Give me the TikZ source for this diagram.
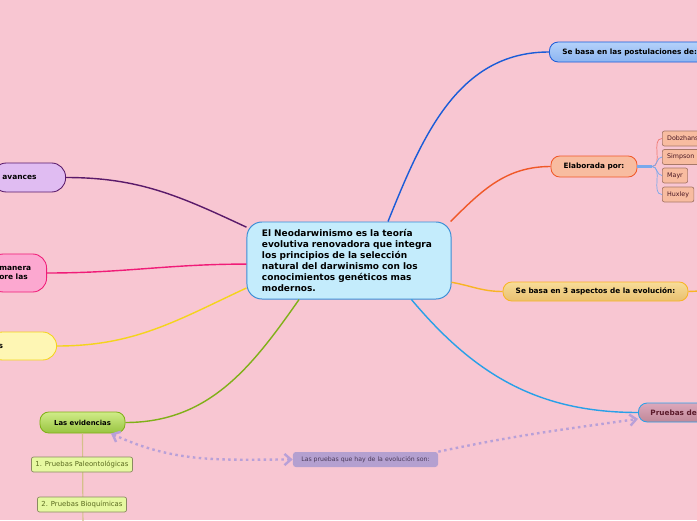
\documentclass[tikz,border=0pt]{standalone}
\usepackage{fontspec}
\setmainfont{DejaVu Sans}
\usepackage{tikz}
\usetikzlibrary{arrows.meta}
\definecolor{fondo}{HTML}{F8C6D2}
\definecolor{celeste}{HTML}{C4ECFC}
\definecolor{bordecentro}{HTML}{3A8ED6}
\definecolor{azul}{HTML}{1A5CD8}
\definecolor{azulclaro}{HTML}{B4D2FA}
\definecolor{azulmedio}{HTML}{8CB4F0}
\definecolor{naranja}{HTML}{F05828}
\definecolor{salmon}{HTML}{F8BCA0}
\definecolor{cafe}{HTML}{A87868}
\definecolor{ramaazul}{HTML}{78A8EC}
\definecolor{ramaroja}{HTML}{F07870}
\definecolor{ambar}{HTML}{F8B424}
\definecolor{arena}{HTML}{F8DC98}
\definecolor{arenaosc}{HTML}{E8C070}
\definecolor{cielo}{HTML}{28A0E8}
\definecolor{malva}{HTML}{DCA8BC}
\definecolor{malvaosc}{HTML}{C08898}
\definecolor{granate}{HTML}{5A1A2A}
\definecolor{morado}{HTML}{5A1A6A}
\definecolor{lila}{HTML}{E0BCF2}
\definecolor{fucsia}{HTML}{F01C78}
\definecolor{rosa}{HTML}{FCA8D0}
\definecolor{amarillo}{HTML}{F4D41C}
\definecolor{crema}{HTML}{FEF6B4}
\definecolor{oliva}{HTML}{80B018}
\definecolor{verdeclaro}{HTML}{D0EC88}
\definecolor{verdeosc}{HTML}{98C440}
\definecolor{lima}{HTML}{E6F8A0}
\definecolor{gris}{HTML}{8A8A60}
\definecolor{musgo}{HTML}{5A6A20}
\definecolor{tostado}{HTML}{D4C08A}
\definecolor{lavanda}{HTML}{B8A0D8}
\definecolor{etiqfondo}{HTML}{B4A0D0}
\definecolor{tinta}{HTML}{4A3A5A}

\begin{document}
\begin{tikzpicture}[x=0.025cm, y=0.025cm,
  tema/.style={draw, line width=0.6pt, rounded corners=0.22cm, inner ysep=0pt,
    minimum height=0.5cm, font=\fontsize{5.2}{6.4}\selectfont\bfseries},
  lado/.style={draw, line width=0.6pt, rounded corners=0.35cm, inner ysep=0pt,
    inner xsep=0.25cm, align=left, anchor=east, font=\fontsize{5.3}{6.5}\selectfont\bfseries},
  hoja/.style={draw, line width=0.5pt, rounded corners=1.5pt, inner xsep=0.12cm,
    inner ysep=0pt, minimum height=0.375cm},
  enlace/.style={line width=1pt},
  punteada/.style={lavanda, line width=1.7pt, dash pattern=on 1.8pt off 2.4pt,
    {Straight Barb[length=1.6mm, width=2.8mm]}-{Straight Barb[length=1.6mm, width=2.8mm]}}]
  \useasboundingbox (0,0) rectangle (697,-520);
  \clip (0,0) rectangle (697,-520);
  \fill[fondo] (0,0) rectangle (697,-520);

  % idea central
  \node[draw=bordecentro, fill=celeste, line width=0.7pt, rounded corners=0.375cm,
    minimum width=5.1cm, minimum height=1.925cm, text width=4.35cm, align=left,
    font=\fontsize{6.4}{7.9}\selectfont\bfseries] (centro) at (349,-260.5)
    {El Neodarwinismo es la teoría\\evolutiva renovadora que integra\\los principios de la selección\\natural del darwinismo con los\\conocimientos genéticos mas\\modernos.};

  % ramas de la derecha
  \node[tema, draw=azul, top color=azulclaro, bottom color=azulmedio, anchor=west,
    inner xsep=0.325cm, minimum height=0.5cm] (post) at (549,-52) {Se basa en las postulaciones de:};
  \draw[enlace, azul] (centro.45) to[out=68, in=180] (post.west);

  \node[tema, draw=naranja, fill=salmon, minimum width=2.15cm, minimum height=0.525cm] (elab) at (594,-166.5) {Elaborada por:};
  \draw[enlace, naranja] (centro.21) to[out=45, in=180] (elab.west);
  \coordinate (nudo) at (652,-166.5);
  \draw[ramaazul, line width=1.6pt] (elab.east) -- (nudo);
  \begin{scope}[every node/.style={hoja, draw=cafe, fill=salmon, text=granate!80!black,
      anchor=west, font=\fontsize{4.5}{5.4}\selectfont}]
    \node (dob) at (662,-138.5) {Dobzhansky};
    \node (simp) at (662,-157) {Simpson};
    \node (mayr) at (662,-175.5) {Mayr};
    \node (hux) at (662,-194.5) {Huxley};
  \end{scope}
  \draw[ramaroja, line width=0.5pt] (nudo) to[out=0, in=180] (dob.west);
  \foreach \h in {simp,mayr,hux}
    \draw[ramaazul, line width=0.5pt] (nudo) to[out=0, in=180] (\h.west);

  \node[tema, draw=ambar, top color=arena, bottom color=arenaosc, minimum width=4.625cm,
    minimum height=0.475cm] (asp) at (595.5,-291.5) {Se basa en 3 aspectos de la evolución:};
  \draw[enlace, ambar] (centro.-12) to[out=-10, in=180] (asp.west);
  \coordinate (asp2) at (700,-291);
  \draw[enlace, ambar] (asp.east) -- (asp2);

  \node[tema, draw=cielo, top color=malva, bottom color=malvaosc, text=granate, anchor=west,
    inner xsep=0.3cm, minimum height=0.475cm] (pruebas) at (638,-412.5) {Pruebas de};
  \draw[enlace, cielo] (centro.-32) to[out=-50, in=180] (pruebas.west);

  % ramas de la izquierda
  \node[lado, draw=morado, fill=lila, minimum height=0.725cm, text width=1.33cm] (avances) at (66,-177.5) {avances};
  \draw[enlace, morado] (avances.east) to[out=0, in=155] (centro.162);

  \node[lado, draw=fucsia, fill=rosa, minimum height=0.95cm, text width=0.93cm] (rosa) at (47,-273) {manera\\ore las};
  \draw[enlace, fucsia] (rosa.east) to[out=0, in=180] (centro.182);

  \node[lado, draw=amarillo, fill=crema, minimum height=0.7cm, text width=1.2cm] (crema) at (57,-346) {s};
  \draw[enlace, amarillo] (crema.east) to[out=0, in=205] (centro.195);

  \node[tema, draw=oliva, top color=verdeclaro, bottom color=verdeosc, minimum width=2.125cm,
    minimum height=0.525cm, font=\fontsize{4.9}{6}\selectfont\bfseries] (evid) at (82.5,-422.5) {Las evidencias};
  \draw[enlace, oliva] (evid.east) to[out=0, in=235] (centro.218);
  \coordinate (fin) at (83,-530);
  \draw[tostado, line width=0.8pt] (evid.south) -- (fin);
  \begin{scope}[every node/.style={hoja, draw=gris, fill=lima, text=musgo,
      inner xsep=0.1cm, font=\fontsize{4.9}{5.8}\selectfont}]
    \node (paleo) at (82,-464.5) {1. Pruebas Paleontológicas};
    \node (bioq) at (82,-504.5) {2. Pruebas Bioquímicas};
  \end{scope}

  % relacion punteada
  \node[fill=etiqfondo, rounded corners=2pt, minimum width=3.625cm, minimum height=0.375cm,
    inner sep=0pt, text=tinta, font=\fontsize{4.4}{5.2}\selectfont] (etiq) at (365.5,-459.5)
    {Las pruebas que hay de la evolución son:};
  \draw[punteada] (evid.-21) to[out=-25, in=180] (etiq.west);
  \draw[punteada, -{Straight Barb[length=1.6mm, width=2.8mm]}] (etiq.north east) to[out=12, in=188] ([yshift=-0.16cm]pruebas.west);
\end{tikzpicture}
\end{document}
